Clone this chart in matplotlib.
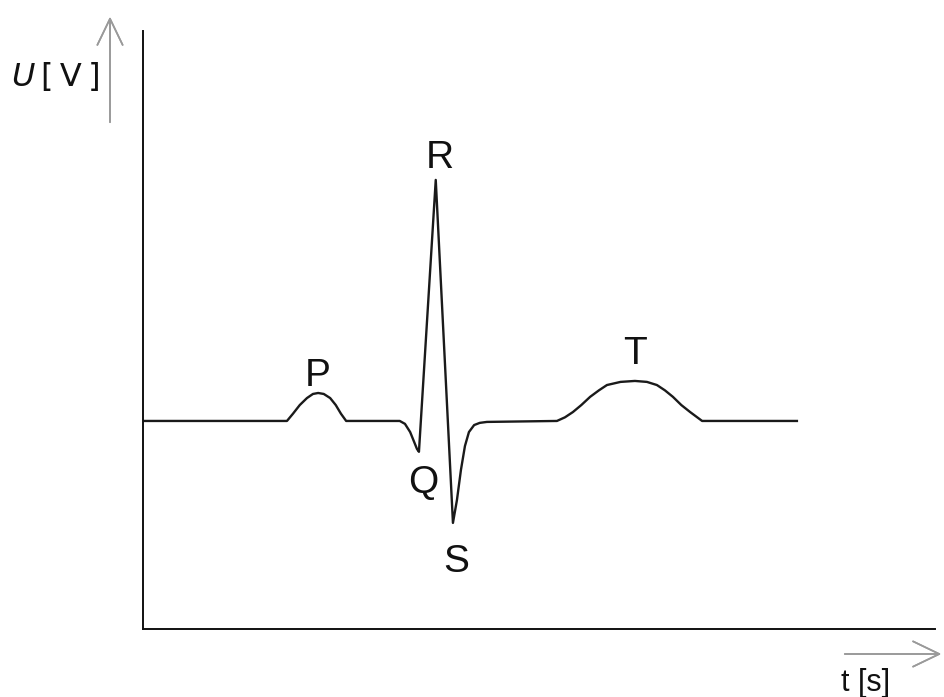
import matplotlib
matplotlib.use("Agg")
import matplotlib.pyplot as plt

# ECG trace, time in seconds, voltage in mV (baseline = 0)
t = [0.0, 0.18,
     0.1875, 0.196, 0.205, 0.2125, 0.219, 0.226, 0.234, 0.241, 0.2475, 0.254,
     0.321,
     0.3275, 0.334, 0.339, 0.3425, 0.345,
     0.366,
     0.3875,
     0.3925, 0.3975, 0.4025, 0.4075, 0.414, 0.421, 0.43,
     0.5175,
     0.5275, 0.5375, 0.548, 0.559, 0.57, 0.58, 0.597, 0.615, 0.63, 0.6425,
     0.6525, 0.6625, 0.673, 0.684, 0.699,
     0.8175]
u = [0.0, 0.0,
     0.03, 0.066, 0.095, 0.112, 0.116, 0.112, 0.095, 0.066, 0.03, 0.0,
     0.0,
     -0.012, -0.046, -0.087, -0.116, -0.128,
     1.0,
     -0.423,
     -0.328, -0.203, -0.104, -0.046, -0.017, -0.008, -0.004,
     0.0,
     0.015, 0.037, 0.066, 0.1, 0.127, 0.149, 0.162, 0.166, 0.162, 0.149,
     0.127, 0.1, 0.066, 0.037, 0.0,
     0.0]

# wave labels, placed by their baseline
wave_names = ["P", "Q", "R", "S", "T"]
wave_t = [0.219, 0.35, 0.371, 0.391, 0.615]
wave_u = [0.145, -0.299, 1.05, -0.627, 0.237]

fig = plt.figure(figsize=(9.45, 6.97), dpi=100)
ax = fig.add_axes([0.1513, 0.0976, 0.838, 0.858])
ax.plot(t, u, color="#1a1a1a", lw=1.7, solid_joinstyle="round")
ax.set_xlim(0, 0.99)
ax.set_ylim(-0.863, 1.618)

for name, x, y in zip(wave_names, wave_t, wave_u):
    ax.text(x, y, name, ha="center", va="baseline", fontsize=28,
            family="Liberation Sans", color="#111111")

ax.set_xticks([])
ax.set_yticks([])
for side in ["top", "right"]:
    ax.spines[side].set_visible(False)
for side in ["left", "bottom"]:
    ax.spines[side].set_linewidth(1.4)
    ax.spines[side].set_color("#111111")

# axis arrows drawn beside the frame, in grey
arrow = dict(arrowstyle="->,head_length=1.35,head_width=0.65",
             color="#9a9a9a", lw=1.2, mutation_scale=14)
fig.add_artist(plt.annotate("", xy=(110, 683), xytext=(110, 572),
                            xycoords="figure pixels", arrowprops=arrow))
fig.add_artist(plt.annotate("", xy=(944, 43), xytext=(842, 43),
                            xycoords="figure pixels", arrowprops=arrow))

fig.text(11 / 945, 1 - 86 / 697, "$U$", fontsize=23, va="baseline",
         family="DejaVu Sans", color="#111111")
fig.text(41 / 945, 1 - 86 / 697, "[\u2009V\u2009]", fontsize=23, va="baseline",
         family="DejaVu Sans", color="#111111")
fig.text(841 / 945, 1 - 691 / 697, "t [s]", fontsize=22, va="baseline",
         family=["Liberation Sans Narrow", "Liberation Sans"], color="#111111")

fig.savefig("out.png", dpi=100)
